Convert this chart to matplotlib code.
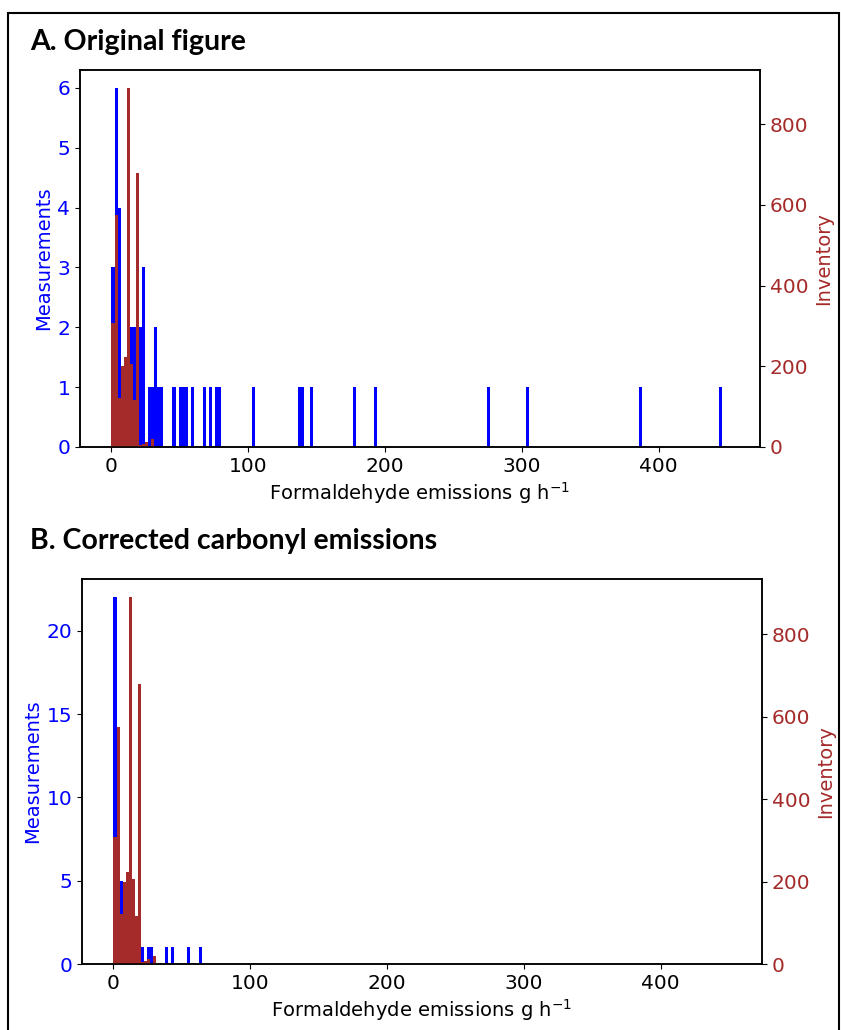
import matplotlib
matplotlib.use('Agg')
import matplotlib.pyplot as plt
import numpy as np
from matplotlib.patches import Rectangle

# histogram bin width (g/h) shared by both series, bins start at 0
bin_w = 2.23

# inventory histogram (same in both panels): bin index -> count
inv_bins = [0, 1, 2, 3, 4, 5, 6, 7, 8, 9, 10, 11, 13]
inv_counts = [307, 576, 122, 200, 223, 890, 206, 116, 679, 4, 8, 12, 20]

# A. original measurements
meas_a_bins = [0, 1, 2, 3, 4, 5, 6, 7, 8, 9, 10,
               12, 13, 14, 15, 16, 20, 22, 23, 24, 26, 30, 32, 34, 35, 46,
               61, 62, 65, 79, 86, 123, 136, 173, 199]
meas_a_counts = [3, 6, 4, 1, 1, 1, 2, 2, 2, 2, 3,
                 1, 1, 2, 1, 1, 1, 1, 1, 1, 1, 1, 1, 1, 1, 1,
                 1, 1, 1, 1, 1, 1, 1, 1, 1]

# B. corrected carbonyl emissions
meas_b_bins = [0, 1, 2, 3, 4, 5, 6, 8, 9, 11, 12, 17, 19, 24, 28]
meas_b_counts = [22, 8, 5, 2, 3, 2, 2, 2, 1, 1, 1, 1, 1, 1, 1]

W, H = 841, 1030
fig = plt.figure(figsize=(W / 100, H / 100), dpi=100)

def rect(l, t, r, b):
    return [l / W, 1 - b / H, (r - l) / W, (b - t) / H]

def panel(box, bins, counts, yticks, ylim):
    ax = fig.add_axes(rect(*box))
    ax.bar(np.array(bins) * bin_w, counts, width=bin_w, align='edge',
           color='blue', linewidth=0)
    ax.set_xlim(-23, 474)
    ax.set_ylim(0, ylim)
    ax.set_yticks(yticks)
    ax.set_xticks([0, 100, 200, 300, 400])
    ax.set_xlabel('Formaldehyde emissions g h$^{-1}$', fontsize=14, labelpad=3)
    ax.set_ylabel('Measurements', color='blue', fontsize=14, labelpad=3)
    ax.tick_params(axis='y', colors='blue', labelsize=14.5)
    ax.tick_params(axis='x', labelsize=14.5)
    ax2 = ax.twinx()
    ax2.bar(np.array(inv_bins) * bin_w, inv_counts, width=bin_w, align='edge',
            color='brown', linewidth=0)
    ax2.set_ylim(0, 934)
    ax2.set_yticks([0, 200, 400, 600, 800])
    ax2.set_ylabel('Inventory', color='brown', fontsize=14, labelpad=4)
    ax2.tick_params(axis='y', colors='brown', labelsize=14.5)
    for a in (ax, ax2):
        for s in a.spines.values():
            s.set_color('black')
            s.set_linewidth(1.1)
        a.tick_params(axis='y', which='both', color='black')
    return ax, ax2

panel((80, 70, 760, 447), meas_a_bins, meas_a_counts, [0, 1, 2, 3, 4, 5, 6], 6.3)
panel((82, 579, 762, 964), meas_b_bins, meas_b_counts, [0, 5, 10, 15, 20], 23.1)

fig.text(30 / W, 1 - 42 / H, 'A. Original figure', fontsize=20.5,
         fontweight='bold', family='Lato', va='center', ha='left')
fig.text(30 / W, 1 - 541 / H, 'B. Corrected carbonyl emissions', fontsize=20.5,
         fontweight='bold', family='Lato', va='center', ha='left')

# outer frame
fig.patches.append(Rectangle((8 / W, -0.01), 831 / W, 1 - 13 / H + 0.01,
                             transform=fig.transFigure, fill=False,
                             edgecolor='black', linewidth=1.5))

fig.savefig('out.png', dpi=100)
